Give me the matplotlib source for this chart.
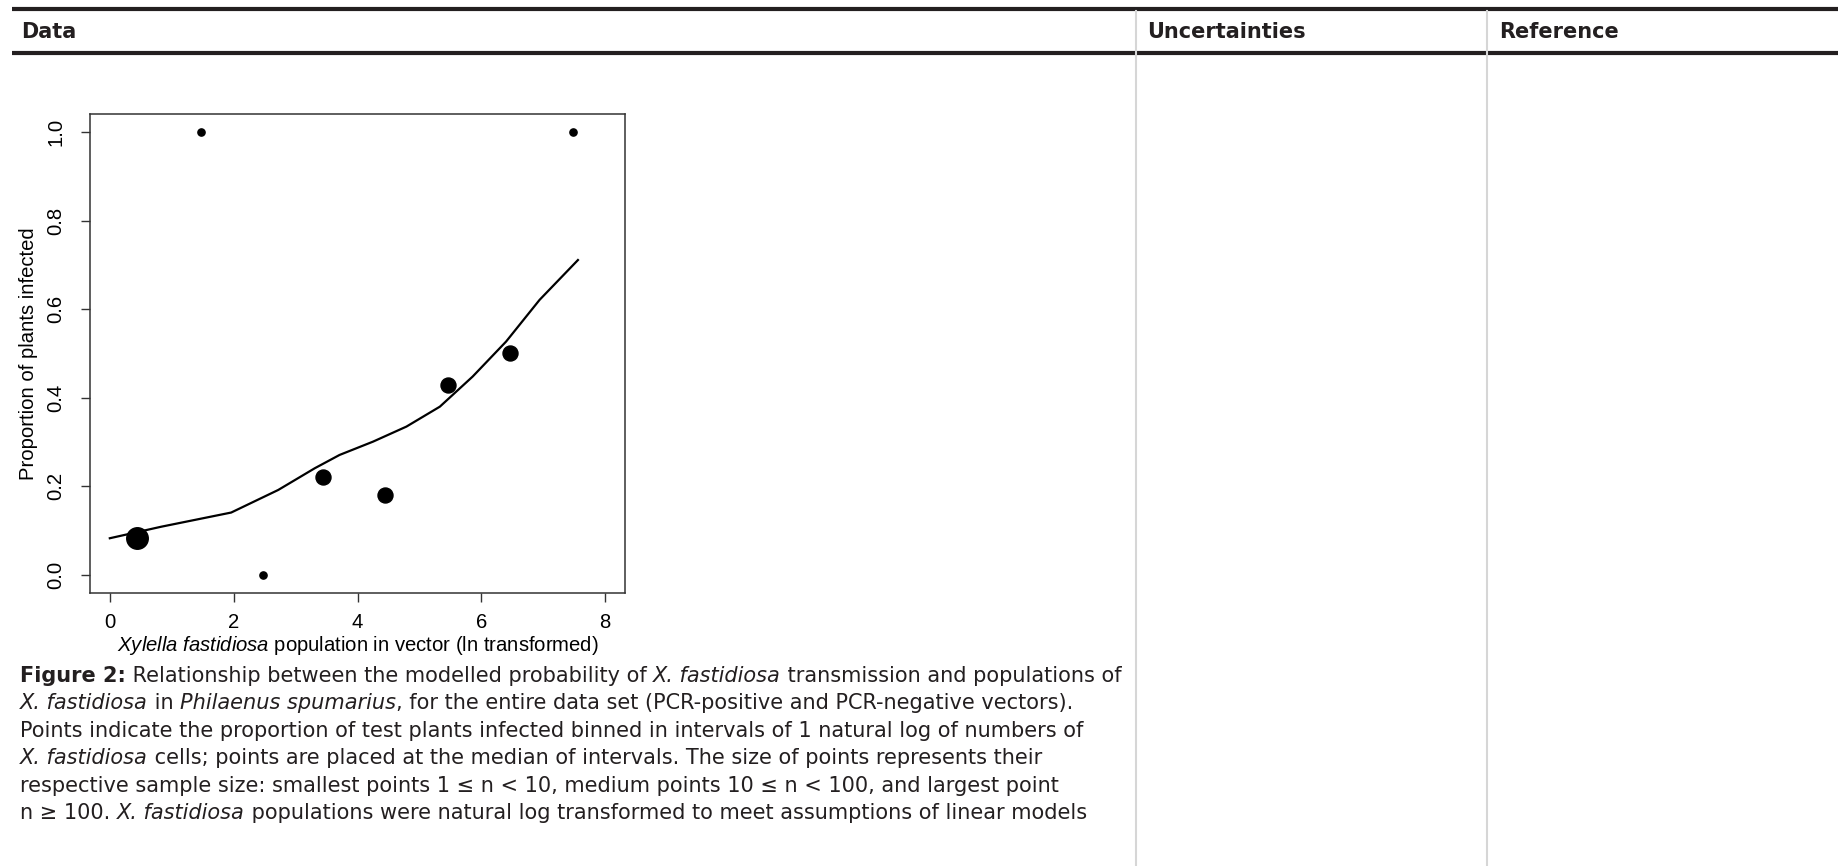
import matplotlib
matplotlib.use('Agg')
import matplotlib.pyplot as plt

plt.rcParams['mathtext.fontset'] = 'custom'
plt.rcParams['mathtext.rm'] = 'Liberation Sans'
plt.rcParams['mathtext.it'] = 'Liberation Sans:italic'

# binned proportions, grouped by sample size
small_x = [1.48, 2.47, 7.48]
small_y = [1.0, 0.0, 1.0]
medium_x = [3.44, 4.45, 5.46, 6.46]
medium_y = [0.222, 0.181, 0.429, 0.500]
large_x = [0.44]
large_y = [0.083]

# modelled probability curve
fit_x = [0.0, 0.83, 1.96, 2.72, 3.31, 3.71, 4.25, 4.79, 5.33, 5.86, 6.40, 6.94, 7.56]
fit_y = [0.083, 0.109, 0.141, 0.192, 0.241, 0.271, 0.301, 0.335, 0.380, 0.448, 0.527, 0.621, 0.711]

x_ticks = [0, 2, 4, 6, 8]
y_ticks = [0.0, 0.2, 0.4, 0.6, 0.8, 1.0]
y_tick_labels = ['0.0', '0.2', '0.4', '0.6', '0.8', '1.0']

headers = ['Data', 'Uncertainties', 'Reference']

caption = [
    [('Figure 2:', 'bold'), (' Relationship between the modelled probability of ', 'normal'),
     ('X. fastidiosa', 'italic'), (' transmission and populations of', 'normal')],
    [('X. fastidiosa', 'italic'), (' in ', 'normal'), ('Philaenus spumarius', 'italic'),
     (', for the entire data set (PCR-positive and PCR-negative vectors).', 'normal')],
    [('Points indicate the proportion of test plants infected binned in intervals of 1 natural log of numbers of', 'normal')],
    [('X. fastidiosa', 'italic'), (' cells; points are placed at the median of intervals. The size of points represents their', 'normal')],
    [('respective sample size: smallest points 1 \u2264 n < 10, medium points 10 \u2264 n < 100, and largest point', 'normal')],
    [('n \u2265 100. ', 'normal'), ('X. fastidiosa', 'italic'),
     (' populations were natural log transformed to meet assumptions of linear models', 'normal')],
]

W, H = 1838, 866
fig = plt.figure(figsize=(W / 100, H / 100), dpi=100)

# page layer in pixel units, y from the top
page = fig.add_axes([0, 0, 1, 1])
page.set_xlim(0, W)
page.set_ylim(H, 0)
page.axis('off')

ink = '#231f20'
page.plot([12, W], [9, 9], color=ink, lw=3, solid_capstyle='butt')
page.plot([12, W], [53, 53], color=ink, lw=3, solid_capstyle='butt')
for cx in [1136, 1487]:
    page.plot([cx, cx], [11, H], color='#d6d6d6', lw=1.5)

for txt, hx in zip(headers, [21, 1147, 1499]):
    page.text(hx, 32, txt, fontsize=15, fontweight='bold', color=ink,
              family='DejaVu Sans', va='center', ha='left')

# caption, drawn piece by piece so styles can mix on one line
renderer = fig.canvas.get_renderer()
base_y = 682
for i, line in enumerate(caption):
    x = 20
    for txt, style in line:
        t = page.text(x, base_y + i * 27.4, txt, fontsize=15, color=ink,
                      family='DejaVu Sans', va='baseline', ha='left',
                      fontweight='bold' if style == 'bold' else 'normal',
                      fontstyle='italic' if style == 'italic' else 'normal')
        x += t.get_window_extent(renderer).width

# the chart itself
ax = fig.add_axes([90 / W, 1 - 593 / H, 535 / W, 479 / H])
ax.plot(fit_x, fit_y, color='black', lw=1.6)
ax.scatter(small_x, small_y, s=5.2 ** 2, color='black', zorder=3)
ax.scatter(medium_x, medium_y, s=10.8 ** 2, color='black', zorder=3)
ax.scatter(large_x, large_y, s=15.5 ** 2, color='black', zorder=3)

ax.set_xlim(-0.32, 8.32)
ax.set_ylim(-0.0406, 1.0406)
ax.set_xticks(x_ticks)
ax.set_yticks(y_ticks)
ax.set_yticklabels(y_tick_labels, rotation=90, va='center')
ax.tick_params(direction='out', length=6.5, width=1, color='#333333',
               labelsize=14.6, labelcolor='black', labelfontfamily='Liberation Sans')
ax.tick_params(axis='x', pad=8)
ax.tick_params(axis='y', pad=11)
for sp in ax.spines.values():
    sp.set_linewidth(1.1)
    sp.set_color('#333333')

ax.set_xlabel(r'$\it{Xylella\ fastidiosa}$ population in vector (ln transformed)',
              fontsize=14.6, family='Liberation Sans', labelpad=1)
ax.set_ylabel('Proportion of plants infected', fontsize=14.6, family='Liberation Sans')
ax.yaxis.set_label_coords(-0.098, 0.5)

fig.savefig('out.png', dpi=100)
